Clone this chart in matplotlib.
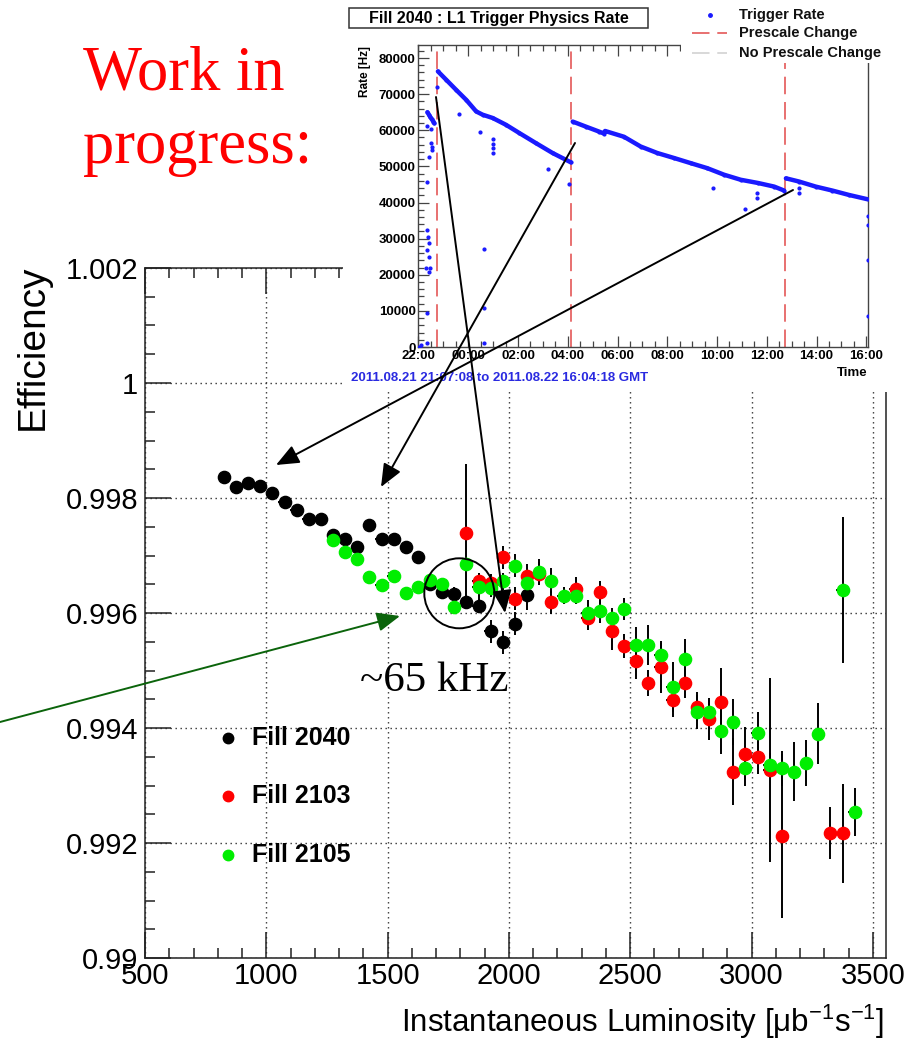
import matplotlib
matplotlib.use("Agg")
import matplotlib.pyplot as plt
from matplotlib.patches import Rectangle, Ellipse, FancyArrowPatch
from matplotlib.lines import Line2D
from matplotlib.ticker import FixedLocator, MultipleLocator

# ---------------- efficiency vs. instantaneous luminosity ----------------
lumi_2040 = [825, 875, 925, 975, 1025, 1075, 1125, 1175, 1225, 1275, 1325, 1375, 1425,
             1475, 1525, 1575, 1625, 1675, 1725, 1775, 1825, 1875, 1925, 1975, 2025, 2075]
eff_2040 = [0.99837, 0.99819, 0.99826, 0.99821, 0.99809, 0.99793, 0.99779, 0.99764, 0.99764,
            0.99736, 0.99728, 0.99714, 0.99753, 0.99728, 0.99728, 0.99714, 0.99698, 0.99650,
            0.99637, 0.99633, 0.99619, 0.99612, 0.99568, 0.99549, 0.99581, 0.99632]
err_2040 = [0.00006, 0.00006, 0.00006, 0.00006, 0.00006, 0.00006, 0.00006, 0.00006, 0.00006,
            0.00007, 0.00007, 0.00007, 0.00008, 0.00008, 0.00008, 0.00009, 0.0001, 0.0001,
            0.0001, 0.00012, 0.00012, 0.00012, 0.0002, 0.0002, 0.0002, 0.00026]

lumi_2103 = [1825, 1875, 1925, 1975, 2025, 2075, 2125, 2175, 2275, 2325, 2375, 2425, 2475,
             2525, 2575, 2625, 2675, 2725, 2775, 2825, 2875, 2925, 2975, 3025, 3075, 3125,
             3325, 3375]
eff_2103 = [0.99740, 0.99655, 0.99653, 0.99697, 0.99625, 0.99665, 0.99668, 0.99619, 0.99642,
            0.99591, 0.99636, 0.99568, 0.99542, 0.99516, 0.99478, 0.99506, 0.99449, 0.99478,
            0.99437, 0.99416, 0.99445, 0.99324, 0.99355, 0.99350, 0.99327, 0.99212, 0.99217,
            0.99217]
err_2103 = [0.0012, 0.00015, 0.00015, 0.0002, 0.0002, 0.0002, 0.0002, 0.0002, 0.0002,
            0.0002, 0.0002, 0.00033, 0.00021, 0.0003, 0.00023, 0.00045, 0.0003, 0.00025,
            0.00025, 0.00036, 0.0006, 0.00058, 0.00046, 0.0003, 0.0016, 0.00143, 0.00045,
            0.00086]

lumi_2105 = [1275, 1325, 1375, 1425, 1475, 1525, 1575, 1625, 1675, 1725, 1775, 1825, 1875,
             1925, 1975, 2025, 2075, 2125, 2175, 2225, 2275, 2325, 2375, 2425, 2475, 2525,
             2575, 2625, 2675, 2725, 2775, 2825, 2875, 2925, 2975, 3025, 3075, 3125, 3175,
             3225, 3275, 3375, 3425]
eff_2105 = [0.99727, 0.99706, 0.99694, 0.99662, 0.99648, 0.99665, 0.99635, 0.99645, 0.99658,
            0.99650, 0.99611, 0.99685, 0.99646, 0.99643, 0.99655, 0.99682, 0.99652, 0.99671,
            0.99656, 0.99630, 0.99630, 0.99600, 0.99603, 0.99591, 0.99607, 0.99545, 0.99545,
            0.99527, 0.99471, 0.99520, 0.99428, 0.99428, 0.99394, 0.99410, 0.99330, 0.99392,
            0.99336, 0.99330, 0.99324, 0.99340, 0.99390, 0.99640, 0.99254]
err_2105 = [0.00006, 0.00006, 0.00006, 0.00006, 0.00006, 0.00006, 0.0001, 0.0001, 0.0001,
            0.0001, 0.0001, 0.0001, 0.00024, 0.00015, 0.00015, 0.0002, 0.0002, 0.00023,
            0.00022, 0.00015, 0.00015, 0.00023, 0.0002, 0.00018, 0.00019, 0.0003, 0.00035,
            0.0002, 0.00044, 0.00035, 0.00029, 0.0002, 0.0004, 0.0004, 0.0003, 0.00035,
            0.0002, 0.0003, 0.00051, 0.0004, 0.00053, 0.00127, 0.00042]

series_names = ["Fill 2040", "Fill 2103", "Fill 2105"]
series_colors = ["#000000", "#ff0000", "#00ee00"]

x_ticks = [500, 1000, 1500, 2000, 2500, 3000, 3500]
x_tick_labels = ["500", "1000", "1500", "2000", "2500", "3000", "3500"]
y_ticks = [0.990, 0.992, 0.994, 0.996, 0.998, 1.000, 1.002]
y_tick_labels = ["0.99", "0.992", "0.994", "0.996", "0.998", "1", "1.002"]

# ---------------- L1 trigger rate during fill 2040 (hours since 00:00 on 21 Aug) ----------------
rate_seg_a_t = [22.36, 22.42, 22.48, 22.54, 22.60, 22.64]
rate_seg_a_r = [65000, 64300, 63600, 63000, 62400, 61900]
rate_seg_b_t = [22.78, 23.11, 23.51, 23.92, 24.32, 24.58, 24.98, 25.52, 26.06, 26.73, 27.39, 28.13]
rate_seg_b_r = [76300, 74000, 71200, 68400, 65200, 64300, 63400, 61500, 59200, 56400, 53700, 51100]
rate_seg_c_t = [28.20, 28.73, 29.27, 29.45, 29.50, 30.26, 30.93, 31.60, 32.28, 32.94, 33.61,
                34.28, 34.95, 35.65, 36.30, 36.70]
rate_seg_c_r = [62400, 61000, 59600, 59100, 59800, 58200, 55500, 53700, 52300, 50900, 49500,
                47700, 46300, 45400, 44400, 43300]
rate_seg_d_t = [36.77, 37.30, 37.97, 38.64, 39.30, 40.05]
rate_seg_d_r = [46700, 45800, 44400, 43300, 42100, 40900]
rate_out_t = [22.33, 22.52, 22.51, 22.55, 22.56, 22.44, 22.36, 22.33, 22.37, 22.44, 22.33,
              22.41, 22.30, 22.47, 22.44, 22.33, 22.02, 22.10, 22.35, 22.73, 23.62, 24.49,
              24.98, 24.98, 24.98, 24.98, 27.21, 28.06, 24.63, 24.65, 24.63, 33.83, 35.62,
              35.62, 35.14, 37.30, 37.30, 40.05, 40.05, 40.05, 40.05]
rate_out_r = [61200, 60400, 56400, 55500, 54500, 52700, 45800, 32400, 30500, 28700, 26900,
              25000, 21800, 21800, 20900, 9400, 100, 600, 1100, 71900, 64500, 59400,
              57600, 56300, 55000, 53700, 49300, 45000, 27000, 10700, 1000, 43900, 42500,
              41200, 38100, 44000, 42700, 36300, 33800, 24100, 8500]
prescale_changes = [22.73, 28.13, 36.73]
time_ticks = [22, 24, 26, 28, 30, 32, 34, 36, 38, 40]
time_labels = ["22:00", "00:00", "02:00", "04:00", "06:00", "08:00", "10:00", "12:00",
               "14:00", "16:00"]
rate_ticks = [0, 10000, 20000, 30000, 40000, 50000, 60000, 70000, 80000]

SANS = "Liberation Sans"
SERIF = "Liberation Serif"
plt.rcParams["font.family"] = SANS
plt.rcParams["mathtext.fontset"] = "custom"
plt.rcParams["mathtext.rm"] = SANS
plt.rcParams["mathtext.default"] = "regular"

W, H = 920, 1050
fig = plt.figure(figsize=(W / 100, H / 100), dpi=100)
fig.patch.set_facecolor("white")


def fx(px):
    return px / W


def fy(py):
    return 1 - py / H


# ---------------- main efficiency panel ----------------
ax = fig.add_axes([fx(145), fy(958), fx(885.7) - fx(145), fy(268) - fy(958)], zorder=0)
ax.set_xlim(500, 3553)
ax.set_ylim(0.990, 1.002)
ax.xaxis.set_major_locator(FixedLocator(x_ticks))
ax.set_xticklabels(x_tick_labels)
ax.xaxis.set_minor_locator(MultipleLocator(100))
ax.yaxis.set_major_locator(FixedLocator(y_ticks))
ax.set_yticklabels(y_tick_labels)
ax.yaxis.set_minor_locator(MultipleLocator(0.0005))
ax.tick_params(which="both", direction="in", top=True, right=False, width=1.1,
               color="#222222")
ax.tick_params(which="major", length=19, labelsize=21)
ax.tick_params(axis="x", which="major", pad=3)
ax.tick_params(axis="y", which="major", pad=5)
ax.tick_params(which="minor", length=7)
for sp in ax.spines.values():
    sp.set_linewidth(1.1)
    sp.set_color("#222222")
ax.grid(True, which="major", linestyle=(0, (1, 2.6)), color="#333333", linewidth=1.0)
ax.set_axisbelow(True)

for lx, ly, le, col in [(lumi_2040, eff_2040, err_2040, series_colors[0]),
                        (lumi_2103, eff_2103, err_2103, series_colors[1]),
                        (lumi_2105, eff_2105, err_2105, series_colors[2])]:
    ax.errorbar(lx, ly, yerr=le, xerr=26, fmt="none", ecolor="black", elinewidth=1.4,
                capsize=0, zorder=3)
    ax.plot(lx, ly, "o", color=col, mec=col, ms=8.8, zorder=4, linestyle="none")

# legend of the efficiency panel
for i, (name, col) in enumerate(zip(series_names, series_colors)):
    yy = 738 + i * 58.3
    fig.add_artist(Line2D([fx(228)], [fy(yy)], marker="o", color=col, mec=col, ms=7.5,
                          transform=fig.transFigure, zorder=6))
    fig.text(fx(252), fy(yy), name, fontsize=18, fontweight="bold", ha="left",
             va="center", zorder=6)

fig.text(fx(33), fy(264), "Efficiency", rotation=90, ha="center", va="top", fontsize=28)
fig.text(fx(884), fy(1032), "Instantaneous Luminosity [μb$^{-1}$s$^{-1}$]", ha="right",
         va="baseline", fontsize=22.5)

# ---------------- white backing for the rate panel ----------------
fig.add_artist(Rectangle((fx(343), fy(392)), fx(920) - fx(343), fy(0) - fy(392),
                         transform=fig.transFigure, facecolor="white", edgecolor="none",
                         zorder=1))

# ---------------- rate panel ----------------
ins = fig.add_axes([fx(418.5), fy(347), fx(868) - fx(418.5), fy(45) - fy(347)], zorder=2)
ins.set_xlim(22.0, 40.07)
ins.set_ylim(0, 83600)
blue = "#1a1aff"
for tt, rr in [(rate_seg_a_t, rate_seg_a_r), (rate_seg_b_t, rate_seg_b_r),
               (rate_seg_c_t, rate_seg_c_r), (rate_seg_d_t, rate_seg_d_r)]:
    ins.plot(tt, rr, "-", color=blue, lw=3.2, solid_capstyle="round", zorder=3)
    ins.plot(tt, rr, ".", color=blue, ms=4, zorder=3)
ins.plot(rate_out_t, rate_out_r, ".", color=blue, ms=4, linestyle="none", zorder=3)
for tc in prescale_changes:
    ins.axvline(tc, color="#e87070", lw=1.4, linestyle=(0, (9, 4)), zorder=2)

ins.xaxis.set_major_locator(FixedLocator(time_ticks))
ins.set_xticklabels(time_labels, fontweight="bold")
ins.xaxis.set_minor_locator(MultipleLocator(0.5))
ins.yaxis.set_major_locator(FixedLocator(rate_ticks))
ins.set_yticklabels([str(v) for v in rate_ticks], fontweight="bold")
ins.yaxis.set_minor_locator(MultipleLocator(2000))
ins.tick_params(which="both", direction="in", top=True, right=False, width=0.9,
                color="#444444", labelsize=9.5, pad=2)
ins.tick_params(which="major", length=8)
ins.tick_params(which="minor", length=4)
for sp in ins.spines.values():
    sp.set_linewidth(1.0)
    sp.set_color("#444444")

fig.text(fx(365), fy(46), "Rate [Hz]", rotation=90, ha="center", va="top", fontsize=8.5,
         fontweight="bold", zorder=6)
fig.text(fx(868), fy(373), "Time", ha="right", va="center", fontsize=9.5,
         fontweight="bold", zorder=6)
fig.text(fx(351), fy(378), "2011.08.21 21:07:08 to 2011.08.22 16:04:18 GMT", ha="left",
         va="center", fontsize=9.5, fontweight="bold", color="#2a2ae0", zorder=6)

# title box of the rate panel
fig.add_artist(Rectangle((fx(349), fy(27.5)), fx(648) - fx(349), fy(8) - fy(27.5),
                         transform=fig.transFigure, facecolor="white", edgecolor="#333333",
                         lw=1.1, zorder=6))
fig.text(fx(499), fy(18), "Fill 2040 : L1 Trigger Physics Rate", ha="center", va="center",
         fontsize=11.5, fontweight="bold", zorder=7)

# legend of the rate panel, on its own white box over the panel corner
fig.add_artist(Rectangle((fx(681), fy(63)), fx(910) - fx(681), fy(0) - fy(63),
                         transform=fig.transFigure, facecolor="white", edgecolor="none",
                         zorder=5))
fig.add_artist(Line2D([fx(710)], [fy(15)], marker=".", color=blue, ms=5,
                      transform=fig.transFigure, zorder=6))
fig.add_artist(Line2D([fx(692), fx(727)], [fy(33), fy(33)], color="#e87070", lw=1.4,
                      linestyle=(0, (9, 4)), transform=fig.transFigure, zorder=6))
fig.add_artist(Line2D([fx(692), fx(727)], [fy(53), fy(53)], color="#d8d8d8", lw=1.4,
                      linestyle=(0, (9, 4)), transform=fig.transFigure, zorder=6))
for yy, txt in [(15, "Trigger Rate"), (33, "Prescale Change"), (53, "No Prescale Change")]:
    fig.text(fx(739), fy(yy), txt, ha="left", va="center", fontsize=10.5,
             fontweight="bold", color="#111111", zorder=6)

# ---------------- annotations ----------------
fig.text(fx(83), fy(89), "Work in", family=SERIF, fontsize=45, color="red",
         va="baseline", ha="left", zorder=6)
fig.text(fx(83), fy(163), "progress:", family=SERIF, fontsize=45, color="red",
         va="baseline", ha="left", zorder=6)
fig.text(fx(360), fy(691), "~65 kHz", family=SERIF, fontsize=31, color="black",
         va="baseline", ha="left", zorder=6)

fig.add_artist(Ellipse((fx(459.3), fy(593.3)), 70 / W, 70 / H, transform=fig.transFigure,
                       fill=False, edgecolor="black", lw=1.4, zorder=6))

arrow_style = "-|>,head_length=1.0,head_width=0.42"
for (x0, y0), (x1, y1), col in [((436, 97), (505, 613), "black"),
                                ((575, 143), (381, 487), "black"),
                                ((793, 190), (276, 465), "black"),
                                ((0, 722), (400, 616), "#0b640b")]:
    fig.add_artist(FancyArrowPatch((fx(x0), fy(y0)), (fx(x1), fy(y1)),
                                   transform=fig.transFigure, arrowstyle=arrow_style,
                                   mutation_scale=14, color=col, lw=1.4, shrinkA=0,
                                   shrinkB=0, zorder=8))

fig.savefig("out.png", dpi=100, facecolor="white")
